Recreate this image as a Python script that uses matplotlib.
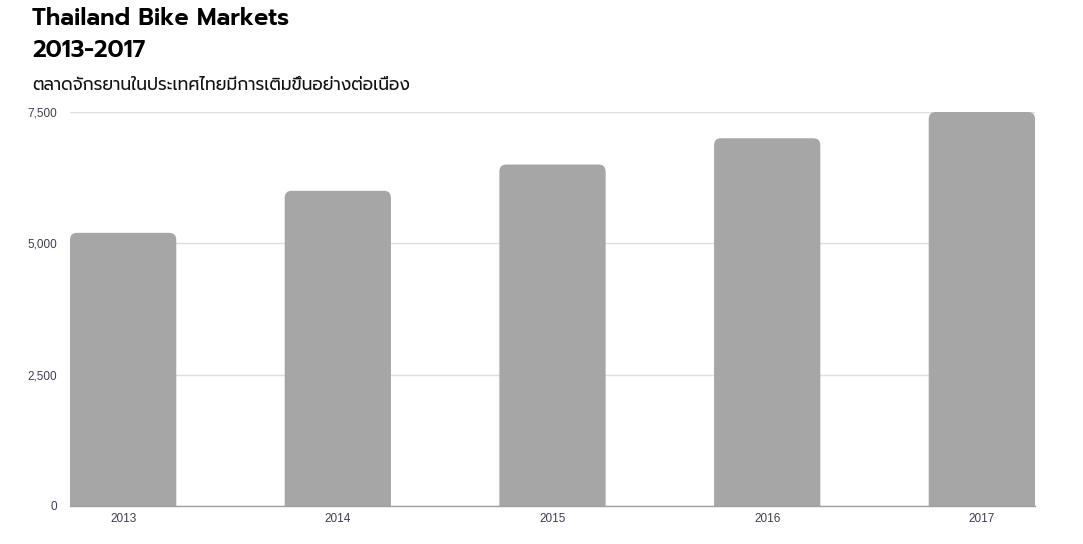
import matplotlib
matplotlib.use("Agg")
import matplotlib.pyplot as plt
from matplotlib.patches import FancyBboxPatch
from matplotlib.ticker import FuncFormatter

years = ["2013", "2014", "2015", "2016", "2017"]
sales = [5200, 6000, 6500, 7000, 7500]
yticks = [0, 2500, 5000, 7500]
title_lines = ["Thailand Bike Markets", "2013-2017"]
subtitle = "ตลาดจักรยานในประเทศไทยมีการเติมขึ้นอย่างต่อเนื่อง"

W, H = 1083, 544
fig = plt.figure(figsize=(W / 100, H / 100), dpi=100)
ax = fig.add_axes([70 / W, 38 / H, 965 / W, 394 / H])

bar_w = 0.495
bars = ax.bar(range(len(years)), sales, width=bar_w, color="#a6a6a6", zorder=2)
ax.set_xlim(-bar_w / 2, len(years) - 1 + bar_w / 2)
ax.set_ylim(0, 7500)

# rounded top corners
px_per_x = 965 / (ax.get_xlim()[1] - ax.get_xlim()[0])
px_per_y = 394 / 7500
r_px = 7
rx = r_px / px_per_x
ry = r_px / px_per_y
for b in bars:
    x, w, h = b.get_x(), b.get_width(), b.get_height()
    p = FancyBboxPatch((x, -ry * 2), w, h + ry * 2,
                       boxstyle=f"round,pad=0,rounding_size={rx}",
                       mutation_aspect=ry / rx,
                       facecolor="#a6a6a6", edgecolor="none", zorder=2)
    ax.add_patch(p)
    b.set_visible(False)

ax.set_yticks(yticks)
ax.yaxis.set_major_formatter(FuncFormatter(lambda v, p: f"{int(v):,}"))
ax.set_xticks(range(len(years)))
ax.set_xticklabels(years)
ax.grid(axis="y", color="#dedede", linewidth=1, zorder=0)
ax.set_axisbelow(True)
for s in ["top", "right", "left"]:
    ax.spines[s].set_visible(False)
ax.spines["bottom"].set_color("#a0a0a0")
ax.spines["bottom"].set_linewidth(1)
ax.spines["bottom"].set_zorder(3)
ax.tick_params(axis="both", length=0, labelsize=8.5, labelcolor="#3f3d50")
ax.tick_params(axis="y", pad=9)
ax.tick_params(axis="x", pad=5)
for lab in ax.get_xticklabels() + ax.get_yticklabels():
    lab.set_family(["Liberation Sans", "DejaVu Sans"])

tfam = ["Prompt", "Kanit", "DejaVu Sans"]
for i, line in enumerate(title_lines):
    fig.text(32 / W, 1 - (25 + 32 * i) / H, line, ha="left", va="baseline",
             family=tfam, weight="semibold", fontsize=16.9, color="#000000")
fig.text(32 / W, 1 - 90 / H, subtitle, ha="left", va="baseline",
         family=tfam, weight="normal", fontsize=12.3, color="#111111")

fig.savefig("out.png", dpi=100)
